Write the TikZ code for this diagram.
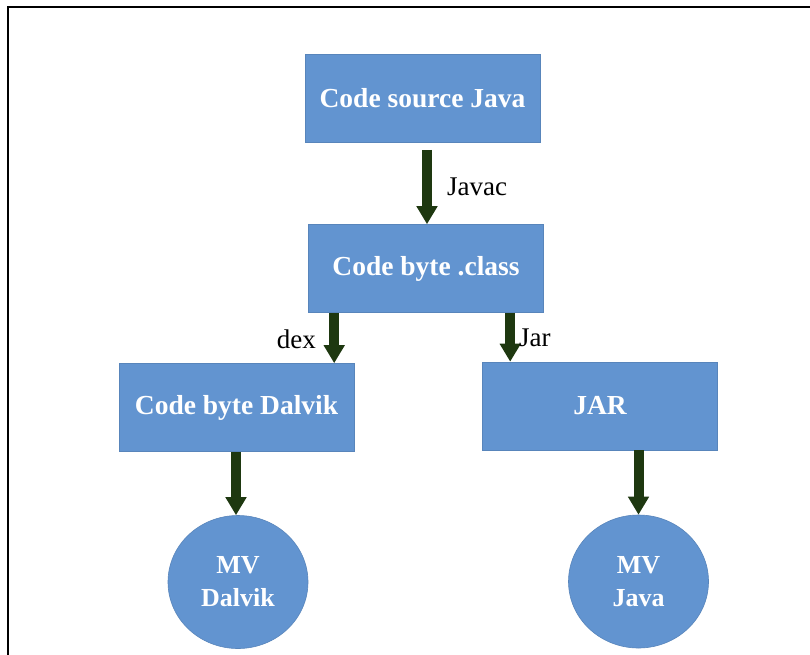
\documentclass[tikz,border=0pt]{standalone}
\usepackage{fontspec}
\setmainfont{Liberation Serif}
\usetikzlibrary{arrows.meta,calc,shapes.geometric}
\definecolor{boxblue}{RGB}{98,148,208}
\definecolor{arrowgreen}{RGB}{30,56,16}
\begin{document}
\begin{tikzpicture}[x=1pt,y=-1pt,
  stepbox/.style={rectangle,fill=boxblue,draw=boxblue!90!black,line width=0.6pt,minimum width=235pt,minimum height=88pt,inner sep=0pt,text=white,font=\fontsize{27.5}{30}\selectfont\bfseries},
  vmnode/.style={ellipse,fill=boxblue,draw=boxblue!90!black,line width=0.6pt,minimum width=140pt,minimum height=133pt,inner sep=0pt,text=white,align=center,font=\fontsize{26}{33}\selectfont\bfseries},
  flow/.style={draw=arrowgreen,line width=10pt,-{Triangle[width=20pt,length=18pt]}},
  lbl/.style={font=\fontsize{27}{30}\selectfont,text=black,inner sep=0pt}]
\useasboundingbox (0,0) rectangle (810,654);
\fill[white] (0,0) rectangle (810,654);
\coordinate (fbl) at (8,654);
\coordinate (ftl) at (8,7);
\coordinate (ftr) at (810,7);
\draw[line width=2.5pt,line cap=rect] (fbl) -- (ftl) -- (ftr);

\node[stepbox] (src) at (422.5,98.5) {Code source Java};
\node[stepbox] (cls) at (426,268.5) {Code byte .class};
\node[stepbox] (dal) at (236.5,407.5) {Code byte Dalvik};
\node[stepbox] (jar) at (600,406) {JAR};
\node[vmnode] (mvd) at (238,582) {MV\\Dalvik};
\node[vmnode] (mvj) at (638.5,581.5) {MV\\Java};

\coordinate (a1) at ($(cls.north)+(1,0)$);
\draw[flow,shorten <=7pt] (a1 |- src.south) -- (a1);
\node[lbl,anchor=west] (ljavac) at (447,187) {Javac};

\coordinate (a2) at ($(cls.south west)+(26,0)$);
\draw[flow] (a2) -- (a2 |- dal.north);
\node[lbl,anchor=east] (ldex) at (316,339) {dex};

\coordinate (a3) at ($(jar.north west)+(28,0)$);
\draw[flow] (a3 |- cls.south) -- (a3);
\node[lbl,anchor=west] (ljar) at (519,338) {Jar};

\draw[flow] (dal.south -| mvd.north) ++(-2,0) coordinate (a4) -- (a4 |- mvd.north);
\draw[flow] (jar.south -| mvj.north) -- (mvj.north);
\end{tikzpicture}
\end{document}
